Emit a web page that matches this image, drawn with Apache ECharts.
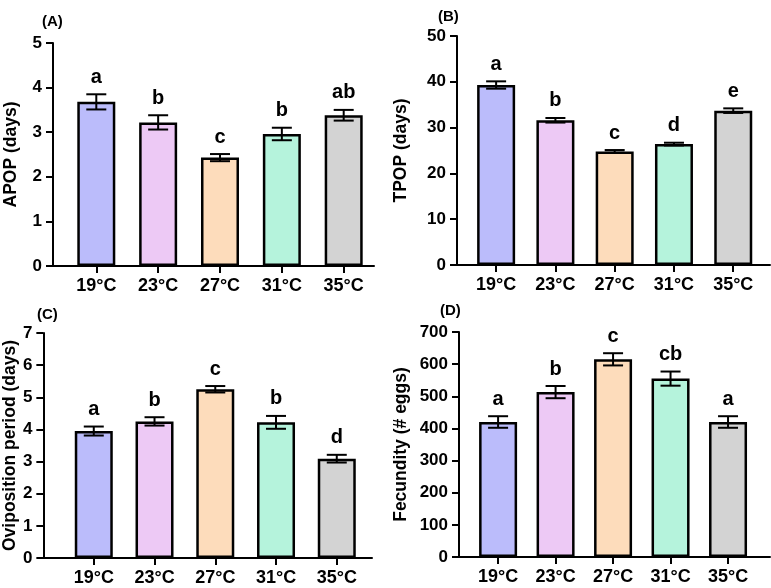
<!DOCTYPE html>
<html>
<head>
<meta charset="utf-8">
<script src="https://cdn.jsdelivr.net/npm/echarts@6/dist/echarts.min.js"></script>
<style>
  html, body { margin: 0; padding: 0; background: #fff; }
  #main { width: 771px; height: 588px; }
</style>
</head>
<body>
<div id="main"></div>
<script>
// categories
var temps = ['19°C', '23°C', '27°C', '31°C', '35°C'];

// (A) APOP
var apopMean = [3.68, 3.22, 2.43, 2.96, 3.38];
var apopErr = [0.17, 0.16, 0.08, 0.14, 0.12];
var apopLetters = ['a', 'b', 'c', 'b', 'ab'];

// (B) TPOP
var tpopMean = [39.3, 31.6, 24.8, 26.4, 33.7];
var tpopErr = [0.8, 0.5, 0.3, 0.3, 0.5];
var tpopLetters = ['a', 'b', 'c', 'd', 'e'];

// (C) Oviposition period
var oviMean = [3.95, 4.25, 5.25, 4.22, 3.09];
var oviErr = [0.14, 0.13, 0.1, 0.2, 0.12];
var oviLetters = ['a', 'b', 'c', 'b', 'd'];

// (D) Fecundity
var fecMean = [420, 513, 615, 555, 420];
var fecErr = [18, 19, 19, 22, 18];
var fecLetters = ['a', 'b', 'c', 'cb', 'a'];

var barColors = ['#bbbcfb', '#edc9f5', '#fddcbb', '#b5f3dc', '#d3d3d3'];
var FONT = "'Liberation Sans', Arial, sans-serif";

var panels = [
  { label: '(A)', name: 'APOP (days)', mean: apopMean, err: apopErr, letters: apopLetters,
    yMax: 5, yStep: 1, xMin: -0.7, xMax: 4.49, nameGap: 33,
    grid: { left: 53, top: 43, width: 321, height: 223 }, lab: { left: 37, top: 9 } },
  { label: '(B)', name: 'TPOP (days)', mean: tpopMean, err: tpopErr, letters: tpopLetters,
    yMax: 50, yStep: 10, xMin: -0.66, xMax: 4.62, nameGap: 47,
    grid: { left: 457, top: 36, width: 313, height: 229 }, lab: { left: 433, top: 4 } },
  { label: '(C)', name: 'Oviposition period (days)', mean: oviMean, err: oviErr, letters: oviLetters,
    yMax: 7, yStep: 1, xMin: -0.83, xMax: 4.58, nameGap: 23,
    grid: { left: 43, top: 333, width: 329, height: 225 }, lab: { left: 32, top: 302 } },
  { label: '(D)', name: 'Fecundity (# eggs)', mean: fecMean, err: fecErr, letters: fecLetters,
    yMax: 700, yStep: 100, xMin: -0.68, xMax: 4.73, nameGap: 49,
    grid: { left: 459, top: 332, width: 311, height: 225 }, lab: { left: 435, top: 298 } }
];

var myChart = echarts.init(document.getElementById('main'));

var option = {
  animation: false,
  backgroundColor: '#fff',
  title: [],
  grid: [],
  xAxis: [],
  yAxis: [],
  series: []
};

panels.forEach(function (p, k) {
  option.title.push({
    text: p.label, left: p.lab.left, top: p.lab.top,
    textStyle: { fontFamily: FONT, fontWeight: 'bold', fontSize: 15, color: '#000' }
  });
  option.grid.push(Object.assign({ containLabel: false }, p.grid));
  option.xAxis.push({
    gridIndex: k,
    type: 'value',
    min: p.xMin,
    max: p.xMax,
    splitLine: { show: false },
    axisLine: { show: true, onZero: false, lineStyle: { color: '#000', width: 2 } },
    axisTick: { show: true, customValues: [0, 1, 2, 3, 4], length: 7, lineStyle: { color: '#000', width: 2 } },
    axisLabel: {
      customValues: [0, 1, 2, 3, 4],
      formatter: function (v) { return temps[Math.round(v)]; },
      margin: 11, fontFamily: FONT, fontWeight: 'bold', fontSize: 18, color: '#000'
    }
  });
  option.yAxis.push({
    gridIndex: k,
    type: 'value',
    min: 0,
    max: p.yMax,
    interval: p.yStep,
    name: p.name,
    nameLocation: 'middle',
    nameGap: p.nameGap,
    nameTextStyle: { fontFamily: FONT, fontWeight: 'bold', fontSize: 17.5, color: '#000' },
    splitLine: { show: false },
    axisLine: { show: true, onZero: false, lineStyle: { color: '#000', width: 2 } },
    axisTick: { show: true, length: 7, lineStyle: { color: '#000', width: 2 } },
    axisLabel: { margin: 11, fontFamily: FONT, fontWeight: 'bold', fontSize: 17, color: '#000' }
  });

  // bars
  option.series.push({
    type: 'bar',
    xAxisIndex: k,
    yAxisIndex: k,
    barWidth: 38,
    data: p.mean.map(function (v, i) {
      return { value: [i, v], itemStyle: { color: barColors[i] } };
    }),
    itemStyle: { borderColor: '#000', borderWidth: 2.5 }
  });

  // error bars + letters
  option.series.push({
    type: 'custom',
    xAxisIndex: k,
    yAxisIndex: k,
    z: 5,
    data: p.mean.map(function (v, i) { return [i, v, p.err[i]]; }),
    renderItem: function (params, api) {
      var x = api.value(0), m = api.value(1), e = api.value(2);
      var top = api.coord([x, m + e]);
      var bot = api.coord([x, m - e]);
      var cap = 10;
      var st = { stroke: '#000', lineWidth: 2 };
      return {
        type: 'group',
        children: [
          { type: 'line', shape: { x1: top[0], y1: top[1], x2: bot[0], y2: bot[1] }, style: st },
          { type: 'line', shape: { x1: top[0] - cap, y1: top[1], x2: top[0] + cap, y2: top[1] }, style: st },
          { type: 'line', shape: { x1: bot[0] - cap, y1: bot[1], x2: bot[0] + cap, y2: bot[1] }, style: st },
          { type: 'text', x: top[0], y: top[1] - 7,
            style: { text: p.letters[params.dataIndex], align: 'center', verticalAlign: 'bottom',
              font: 'bold 20px ' + FONT, fill: '#000' } }
        ]
      };
    }
  });
});

myChart.setOption(option);
</script>
</body>
</html>
